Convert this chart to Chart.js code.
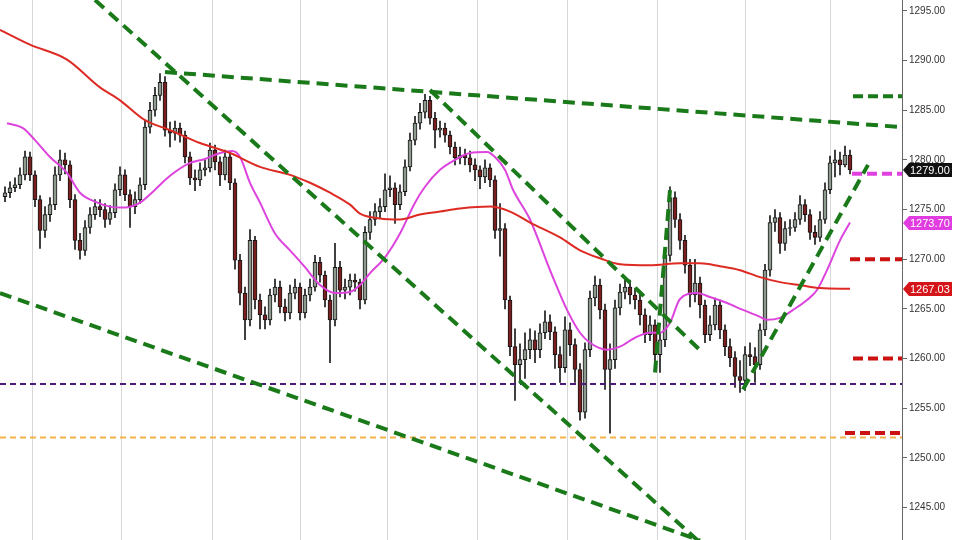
<!DOCTYPE html>
<html>
<head>
<meta charset="utf-8">
<script src="https://cdn.jsdelivr.net/npm/chart.js@4/dist/chart.umd.min.js"></script>
<style>
  html, body { margin: 0; padding: 0; background: #fff; }
  #clip { width: 960px; height: 540px; position: relative; overflow: hidden; }
  #wrap { width: 960px; height: 556px; position: absolute; left: 0; top: -8px; }
</style>
</head>
<body>
<div id="clip"><div id="wrap"><canvas id="chart"></canvas></div></div>
<script>
// candle data, one bar per slot (x = slot number)
const firstOpen = 1276.3;
const closes = [1276.7,1277.2,1277.5,1278.5,1280.3,1278.5,1276.0,1272.9,1274.5,1275.5,
  1278.5,1280.0,1279.5,1276.0,1271.9,1270.9,1273.2,1274.5,1275.3,1275.0,
  1274.0,1274.7,1277.0,1278.5,1276.5,1275.3,1276.0,1277.5,1283.3,1285.0,
  1286.5,1287.8,1283.0,1282.7,1283.2,1282.5,1280.3,1278.2,1278.0,1279.0,
  1279.2,1281.0,1279.8,1278.5,1280.3,1277.7,1269.9,1266.6,1263.9,1271.9,
  1265.9,1264.4,1263.9,1266.4,1267.2,1265.2,1264.6,1266.6,1267.2,1264.6,
  1266.4,1267.2,1269.7,1268.4,1265.9,1263.9,1269.2,1266.9,1267.2,1267.9,
  1267.7,1265.9,1272.7,1274.0,1274.8,1275.3,1277.0,1277.2,1275.5,1276.8,
  1279.3,1282.0,1283.7,1284.8,1286.0,1284.2,1283.0,1283.2,1282.5,1281.3,
  1280.2,1280.5,1280.2,1279.5,1279.0,1278.3,1279.2,1278.0,1272.9,1273.1,
  1265.9,1261.2,1259.4,1259.9,1260.9,1261.9,1260.9,1262.6,1263.7,1262.7,
  1260.4,1259.1,1262.9,1261.4,1258.9,1254.6,1260.9,1266.1,1267.4,1264.9,
  1258.9,1259.9,1265.1,1266.7,1267.2,1266.4,1265.9,1264.4,1262.4,1263.4,
  1260.4,1261.9,1270.4,1276.2,1274.0,1271.9,1269.4,1266.4,1267.6,1265.4,
  1262.4,1263.4,1265.4,1262.9,1261.2,1260.1,1258.2,1257.8,1260.4,1260.2,
  1259.4,1262.9,1268.9,1273.7,1274.2,1271.6,1273.1,1273.2,1274.0,1275.5,
  1274.5,1272.7,1272.2,1274.0,1277.0,1279.7,1280.0,1279.5,1280.5,1279.0];
const highs = [1277.3,1277.8,1278.2,1279.2,1280.9,1280.8,1278.9,1276.4,1275.3,1276.2,
  1279.3,1281.0,1280.7,1279.9,1276.5,1272.6,1273.9,1275.2,1276.0,1276.0,
  1275.6,1275.4,1277.6,1279.3,1279.0,1277.0,1276.8,1278.2,1284.0,1285.8,
  1287.3,1288.7,1288.4,1283.8,1283.9,1283.7,1282.9,1280.8,1279.0,1279.7,
  1280.0,1281.7,1281.5,1280.3,1281.0,1280.8,1278.1,1270.5,1267.2,1273.0,
  1272.3,1266.5,1265.2,1267.0,1268.0,1267.8,1266.0,1267.4,1268.0,1267.6,
  1267.0,1268.0,1270.4,1270.2,1268.8,1266.4,1271.6,1269.8,1268.0,1268.5,
  1268.5,1268.0,1273.3,1274.8,1275.6,1276.1,1278.6,1278.4,1277.7,1277.5,
  1280.0,1282.7,1284.4,1285.7,1286.6,1286.4,1284.8,1283.9,1283.7,1282.9,
  1281.8,1281.3,1281.1,1280.9,1280.1,1279.4,1280.0,1279.6,1278.4,1275.6,
  1273.6,1266.3,1263.0,1261.5,1262.6,1263.0,1262.8,1263.5,1264.8,1264.4,
  1263.2,1261.2,1264.2,1263.6,1262.0,1259.5,1261.6,1266.8,1268.3,1268.0,
  1265.5,1261.5,1265.9,1267.5,1268.0,1267.9,1267.1,1266.5,1265.0,1264.3,
  1263.9,1262.6,1271.0,1277.3,1276.8,1274.6,1272.4,1270.0,1270.0,1268.2,
  1265.9,1264.3,1266.1,1265.9,1263.4,1262.0,1260.7,1259.8,1261.2,1261.6,
  1261.1,1263.5,1269.5,1274.4,1275.0,1274.7,1273.8,1274.0,1274.7,1276.4,
  1276.0,1275.0,1273.4,1274.8,1277.7,1280.4,1281.0,1280.8,1281.4,1281.0];
const lows = [1275.8,1276.2,1276.8,1277.1,1278.0,1277.9,1275.3,1271.1,1272.2,1273.8,
  1275.0,1277.9,1278.6,1275.2,1271.0,1270.0,1270.4,1272.6,1274.0,1274.3,
  1273.2,1273.5,1274.2,1276.4,1275.9,1273.2,1274.6,1275.6,1277.0,1282.7,
  1284.4,1286.0,1282.4,1281.3,1282.0,1281.8,1279.7,1277.5,1276.9,1277.4,
  1278.4,1278.8,1279.0,1277.4,1278.0,1277.0,1269.0,1265.4,1261.9,1263.3,
  1265.0,1263.0,1263.0,1263.4,1265.7,1264.6,1263.8,1264.0,1266.0,1263.9,
  1264.1,1265.8,1266.8,1267.7,1265.2,1259.6,1263.3,1266.2,1266.0,1266.4,
  1266.8,1265.0,1265.5,1272.0,1273.4,1274.2,1274.8,1276.3,1273.6,1275.0,
  1276.4,1278.9,1281.5,1283.1,1284.2,1283.6,1281.2,1282.3,1281.8,1280.6,
  1279.5,1279.6,1279.5,1278.8,1277.9,1277.1,1277.7,1277.3,1272.1,1270.3,
  1265.0,1260.3,1255.8,1257.5,1258.0,1260.0,1259.6,1260.1,1262.0,1261.9,
  1259.0,1257.6,1258.6,1260.3,1257.6,1253.8,1254.0,1260.2,1265.3,1264.0,
  1256.9,1252.5,1259.0,1264.4,1266.0,1265.5,1265.0,1263.4,1261.6,1261.8,
  1259.3,1258.6,1261.2,1269.8,1273.2,1271.0,1268.6,1265.2,1265.7,1264.1,
  1261.6,1261.8,1262.9,1262.0,1260.3,1259.2,1257.1,1256.6,1256.8,1259.3,
  1257.6,1258.9,1262.3,1268.3,1272.8,1270.6,1270.9,1272.4,1272.8,1273.5,
  1273.8,1272.0,1271.5,1271.8,1273.6,1276.6,1278.3,1278.5,1279.3,1278.6];

// moving averages
const redMaX = [0,6,13.4,20,24,29,34,40,46,52,58,62,66,70,72,76,80,84,88,92,98,102,106,112,116,120,124,130,136,140,144,148,152,156,160,164,170];
const redMaY = [1293.1,1291.6,1290.1,1287.3,1286.0,1284.0,1283.0,1281.7,1280.7,1279.3,
  1278.5,1277.7,1276.7,1275.5,1274.6,1274.1,1274.0,1274.5,1274.8,1275.1,
  1275.3,1274.8,1273.7,1272.2,1270.9,1270.1,1269.5,1269.4,1269.6,1269.6,
  1269.3,1268.9,1268.2,1267.7,1267.4,1267.1,1267.03];
const pinkMaX = [1.4,4.6,7,10,13.4,16,19,22,25,28,31,34,38,41,44,46.4,48,50,52,55,
  58,61,64,67,70,72,74,77,80,83,85,88,91,94,97.4,99,101,102.6,106,110,
  113.4,116,118,121.4,124,127,130,132,134,136,139.4,142,145.4,148.6,152,153.4,156,158.6,161.4,163.4,
  165.4,168,170];
const pinkMaY = [1283.7,1283.2,1282.0,1280.3,1278.7,1276.7,1275.8,1275.3,1275.2,1275.7,
  1277.0,1278.4,1279.7,1280.1,1280.7,1280.9,1280.3,1277.7,1275.7,1272.6,
  1270.9,1269.2,1267.4,1266.6,1266.7,1267.4,1268.6,1270.2,1272.6,1275.7,
  1277.3,1279.0,1280.0,1280.7,1280.8,1280.3,1279.0,1277.0,1274.0,1268.9,
  1264.9,1262.6,1261.6,1260.9,1261.2,1262.1,1262.6,1262.6,1263.6,1266.0,
  1266.6,1266.2,1265.6,1264.9,1264.2,1263.9,1264.1,1264.9,1265.9,1266.9,
  1268.9,1271.9,1273.7];

// green trend lines (start / end)
const trendX1 = [19, 33, 86, 0, 131, 148.6];
const trendY1 = [1296.1, 1288.85, 1287.04, 1266.6, 1258.6, 1256.9];
const trendX2 = [140, 180.4, 140.6, 140, 134, 173.6];
const trendY2 = [1241.5, 1283.3, 1260.56, 1241.7, 1277.0, 1279.5];

// short level stubs at right edge
const levelValues = [1286.4, 1278.6, 1270.0, 1260.0, 1252.5];
const levelStart = [170.6, 170.4, 170, 170.6, 169];
const levelColors = ['#1a7a1a', '#e040e0', '#cc1111', '#cc1111', '#cc1111'];

// full width horizontal lines
const hLineValues = [1257.45, 1252.05];
const hLineColors = ['#4b1a7a', '#f2b34a'];

// price tags on the axis
const tagValues = [1279.00, 1273.70, 1267.03];
const tagColors = ['#111111', '#e03ce0', '#d4161a'];

const yTicks = [1245, 1250, 1255, 1260, 1265, 1270, 1275, 1280, 1285, 1290, 1295];
const gridX = [15.4, 33.4, 51.4, 68.6, 86.6, 104.4, 122.4, 140.4, 157.6];

const X_MAX = 180.4;
const opens = [firstOpen].concat(closes.slice(0, -1));

const wickData = closes.map((c, i) => ({ x: i + 1, y: [lows[i], highs[i]] }));
const bodyData = closes.map((c, i) => ({ x: i + 1, y: [opens[i], c] }));
const bodyColors = closes.map((c, i) => (c >= opens[i] ? '#8f9a8f' : '#7a1f1f'));

const datasets = [];

trendX1.forEach((x, i) => {
  datasets.push({
    type: 'line', order: 0,
    data: [{ x: x, y: trendY1[i] }, { x: trendX2[i], y: trendY2[i] }],
    borderColor: '#1a7a1a', borderWidth: 4, borderDash: [12, 7],
    pointRadius: 0,
  });
});

levelValues.forEach((v, i) => {
  datasets.push({
    type: 'line', order: 0,
    data: [{ x: levelStart[i], y: v }, { x: X_MAX, y: v }],
    borderColor: levelColors[i], borderWidth: 4, borderDash: [10, 5],
    pointRadius: 0,
  });
});

hLineValues.forEach((v, i) => {
  datasets.push({
    type: 'line', order: 1,
    data: [{ x: 0, y: v }, { x: X_MAX, y: v }],
    borderColor: hLineColors[i], borderWidth: 2, borderDash: [6, 4],
    pointRadius: 0,
  });
});

datasets.push({
  type: 'line', order: 1,
  data: redMaX.map((x, i) => ({ x: x, y: redMaY[i] })),
  borderColor: '#dd2a22', borderWidth: 2, pointRadius: 0,
  cubicInterpolationMode: 'monotone',
});
datasets.push({
  type: 'line', order: 1,
  data: pinkMaX.map((x, i) => ({ x: x, y: pinkMaY[i] })),
  borderColor: '#dd44dd', borderWidth: 2, pointRadius: 0,
  cubicInterpolationMode: 'monotone',
});

datasets.push({
  type: 'bar', order: 2, grouped: false,
  data: bodyData,
  backgroundColor: bodyColors, borderColor: '#151515', borderWidth: 1,
  borderSkipped: false, barThickness: 4,
});
datasets.push({
  type: 'bar', order: 3, grouped: false,
  data: wickData,
  backgroundColor: '#1a1a1a', barThickness: 1,
});

const priceTags = {
  id: 'priceTags',
  afterDraw(chart) {
    const ctx = chart.ctx;
    const y = chart.scales.y;
    const x0 = chart.chartArea.right + 1;
    ctx.save();
    ctx.font = '11px "Liberation Sans", Arial, sans-serif';
    ctx.textBaseline = 'middle';
    tagValues.forEach((v, i) => {
      const py = Math.round(y.getPixelForValue(v));
      ctx.fillStyle = tagColors[i];
      ctx.beginPath();
      ctx.moveTo(x0, py);
      ctx.lineTo(x0 + 6, py - 7);
      ctx.lineTo(x0 + 49, py - 7);
      ctx.lineTo(x0 + 49, py + 7);
      ctx.lineTo(x0 + 6, py + 7);
      ctx.closePath();
      ctx.fill();
      ctx.fillStyle = '#ffffff';
      ctx.fillText(v.toFixed(2), x0 + 7, py + 0.5);
    });
    ctx.restore();
  },
};

new Chart(document.getElementById('chart'), {
  type: 'bar',
  data: { datasets: datasets },
  plugins: [priceTags],
  options: {
    responsive: true,
    maintainAspectRatio: false,
    animation: false,
    layout: { padding: 0 },
    plugins: { legend: { display: false }, tooltip: { enabled: false } },
    scales: {
      x: {
        type: 'linear', min: 0, max: X_MAX, offset: false,
        afterBuildTicks: (s) => { s.ticks = gridX.map((v) => ({ value: v })); },
        afterFit: (s) => { s.height = 0; },
        ticks: { display: false },
        grid: { color: '#d6d6d6', lineWidth: 1, drawTicks: false },
        border: { display: false },
      },
      y: {
        position: 'right', min: 1241.74, max: 1296.1,
        afterBuildTicks: (s) => { s.ticks = yTicks.map((v) => ({ value: v })); },
        afterFit: (s) => { s.width = 58; },
        ticks: {
          padding: 2, color: '#333',
          font: { family: '"Liberation Sans", Arial, sans-serif', size: 10 },
          callback: (v) => Number(v).toFixed(2),
        },
        grid: { drawOnChartArea: false, drawTicks: true, tickLength: 5, color: '#666' },
        border: { display: true, color: '#666', width: 1 },
      },
    },
  },
});
</script>
</body>
</html>
